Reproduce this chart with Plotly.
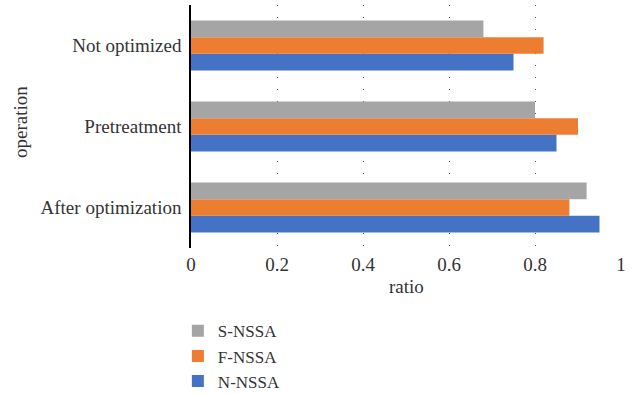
import plotly.graph_objects as go

# Operations, listed bottom-to-top on the category axis
operations = ["After optimization", "Pretreatment", "Not optimized"]

# Ratio for each method per operation (same order as operations)
n_nssa = [0.95, 0.85, 0.75]
f_nssa = [0.88, 0.90, 0.82]
s_nssa = [0.92, 0.80, 0.68]

x_ticks = [0, 0.2, 0.4, 0.6, 0.8, 1]
x_tick_text = ["0", "0.2", "0.4", "0.6", "0.8", "1"]

x_title = "ratio"
y_title = "operation"

series = [
    ("N-NSSA", n_nssa, "#4472C4"),
    ("F-NSSA", f_nssa, "#ED7D31"),
    ("S-NSSA", s_nssa, "#A5A5A5"),
]

font_family = "Liberation Serif, Times New Roman, serif"
text_color = "#333333"

fig = go.Figure()
for name, values, color in series:
    fig.add_trace(go.Bar(
        y=operations,
        x=values,
        name=name,
        orientation="h",
        marker=dict(color=color, line=dict(width=0)),
        legendgroup=name,
    ))

fig.update_layout(
    width=633,
    height=394,
    margin=dict(l=191, r=12, t=5, b=146, autoexpand=False),
    paper_bgcolor="white",
    plot_bgcolor="white",
    barmode="group",
    bargap=0.38,
    bargroupgap=0,
    font=dict(family=font_family, size=19, color=text_color),
    showlegend=True,
    legend=dict(
        traceorder="reversed",
        x=0.281,
        xanchor="left",
        xref="container",
        y=0.205,
        yanchor="top",
        yref="container",
        font=dict(family=font_family, size=17, color=text_color),
        tracegroupgap=5,
        itemwidth=30,
        bgcolor="rgba(0,0,0,0)",
    ),
)

# Axis titles placed as annotations outside the plotting area
fig.add_annotation(
    text=y_title, textangle=-90, showarrow=False,
    xref="paper", yref="paper", x=-0.395, y=0.519,
    xanchor="center", yanchor="middle",
    font=dict(family=font_family, size=19, color=text_color),
)
fig.add_annotation(
    text=x_title, showarrow=False,
    xref="paper", yref="paper", x=0.5, y=-0.16,
    xanchor="center", yanchor="middle",
    font=dict(family=font_family, size=19, color=text_color),
)

fig.update_xaxes(
    range=[0, 1],
    tickvals=x_ticks,
    ticktext=x_tick_text,
    showgrid=True,
    gridcolor="#595959",
    gridwidth=1,
    griddash="1px,11px",
    zeroline=False,
    showline=False,
    ticks="",
    ticklabelstandoff=3,
    automargin=False,
)

fig.update_yaxes(
    categoryorder="array",
    categoryarray=operations,
    showgrid=False,
    zeroline=False,
    showline=True,
    linecolor="#000000",
    linewidth=1.5,
    ticks="",
    ticklabelstandoff=4,
    automargin=False,
)

fig.write_html("out.html")
